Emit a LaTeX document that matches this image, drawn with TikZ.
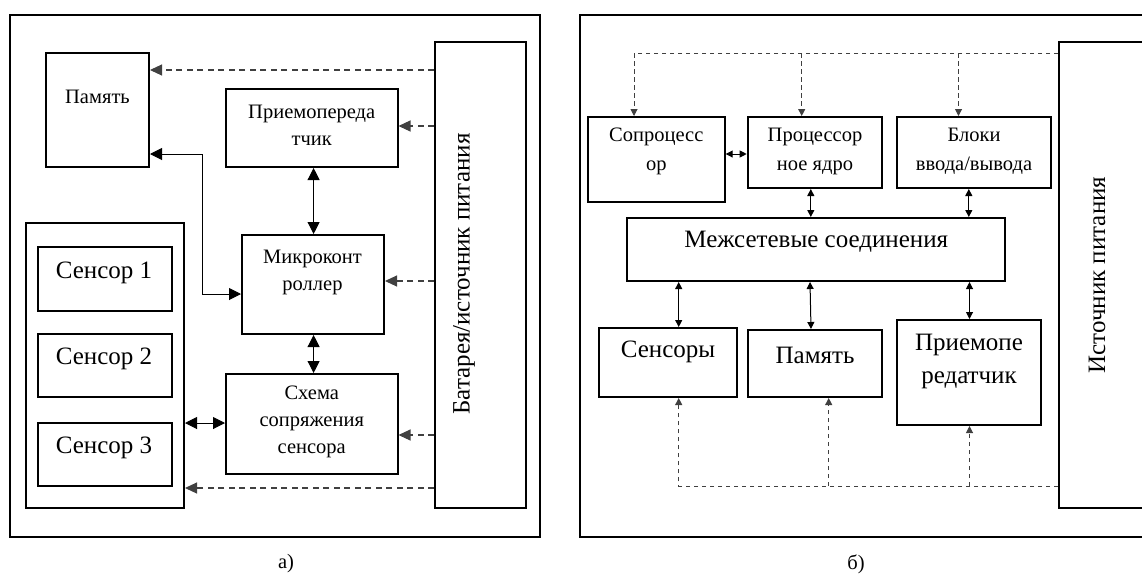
\documentclass[tikz,border=0pt]{standalone}
\usepackage{fontspec}
\setmainfont{Liberation Serif}
\usetikzlibrary{arrows.meta}
\begin{document}
\begin{tikzpicture}[x=1pt,y=-1pt,
  box/.style={draw,line width=2pt,inner sep=0pt},
  lbl/.style={inner sep=0pt,align=center},
  small/.style={font=\fontsize{20.5}{27}\selectfont},
  smallr/.style={font=\fontsize{20.5}{29}\selectfont},
  big/.style={font=\fontsize{25}{33}\selectfont},
  al/.style={line width=1pt,{Triangle[length=12pt,width=12pt]}-{Triangle[length=12pt,width=12pt]}},
  dl/.style={line width=1.1pt,draw=black!75,dash pattern=on 6pt off 4.5pt,-{Triangle[length=12pt,width=11pt]}},
  ar/.style={line width=1pt,{Triangle[length=7pt,width=7pt]}-{Triangle[length=7pt,width=7pt]}},
  dr/.style={line width=1pt,draw=black!75,dash pattern=on 4.5pt off 3.5pt},
  drt/.style={dr,-{Triangle[length=7pt,width=7pt]}}
]
\useasboundingbox (0,0) rectangle (1142,576);
\clip (0,0) rectangle (1142,576);

% ---------- panel a ----------
\draw[line width=2.4pt] (10,15) rectangle (540,537);
\node[box,minimum width=91,minimum height=466] (bat) at (480.5,275) {};
\node[lbl,big,rotate=90] (batT) at (464,274) {Батарея/источник питания};
\node[box,minimum width=103,minimum height=114] (mem) at (97.5,110) {};
\node[lbl,small] (memT) at (97.5,97) {Память};
\node[box,minimum width=171.5,minimum height=78] (trx) at (311.75,128) {};
\node[lbl,small] (trxT) at (311.75,125) {Приемопереда\\тчик};
\node[box,minimum width=142,minimum height=99] (mcu) at (313,284.5) {};
\node[lbl,small] (mcuT) at (312.5,272) {Микроконт\\роллер};
\node[box,minimum width=158.3,minimum height=285] (sgrp) at (104.85,365.5) {};
\node[box,minimum width=134,minimum height=64] (s1) at (105,279) {};
\node[lbl,big] (s1T) at (104,273) {Сенсор 1};
\node[box,minimum width=134,minimum height=63] (s2) at (105,365.5) {};
\node[lbl,big] (s2T) at (104,359) {Сенсор 2};
\node[box,minimum width=134,minimum height=63] (s3) at (105,454.5) {};
\node[lbl,big] (s3T) at (104,448) {Сенсор 3};
\node[box,minimum width=171.5,minimum height=100] (sch) at (311.75,424) {};
\node[lbl,small] (schT) at (311.75,422) {Схема\\сопряжения\\сенсора};
\node[lbl,small] (capA) at (286,564) {а)};

\draw[al] (mcu.north -| 313.6,0) -- (trx.south -| 313.6,0);
\draw[al] (mcu.south -| 313.6,0) -- (sch.north -| 313.6,0);
\draw[al] (mem.east |- 0,154) -- (202.5,154) -- (202.5,294) -- (mcu.west |- 0,294);
\draw[al] (sgrp.east |- 0,423) -- (sch.west |- 0,423);

\draw[dl] (bat.west |- 0,70) -- (mem.east |- 0,70);
\draw[dl] (bat.west |- 0,126) -- (trx.east |- 0,126);
\draw[dl] (bat.west |- 0,281) -- (mcu.east |- 0,281);
\draw[dl] (bat.west |- 0,435) -- (sch.east |- 0,435);
\draw[dl] (bat.west |- 0,488) -- (sgrp.east |- 0,488);

% ---------- panel b ----------
\draw[line width=2.4pt] (580,15) rectangle (1170,537);
\node[box,minimum width=121,minimum height=466] (pwr) at (1119.5,275) {};
\node[lbl,big,rotate=90] (pwrT) at (1097,275) {Источник питания};
\node[box,minimum width=136.7,minimum height=85] (cop) at (656.35,159.5) {};
\node[lbl,smallr] (copT) at (656.3,151) {Сопроцесс\\ор};
\node[box,minimum width=134.6,minimum height=71] (cpu) at (815,152.5) {};
\node[lbl,smallr] (cpuT) at (815,151) {Процессор\\ное ядро};
\node[box,minimum width=154,minimum height=71] (io) at (974,152.5) {};
\node[lbl,smallr] (ioT) at (974,151) {Блоки\\ввода/вывода};
\node[box,minimum width=378.5,minimum height=63] (net) at (815.75,249.5) {};
\node[lbl,big] (netT) at (816.3,242) {Межсетевые соединения};
\node[box,minimum width=137.7,minimum height=69] (sen) at (667.85,362.5) {};
\node[lbl,big] (senT) at (668,352) {Сенсоры};
\node[box,minimum width=134.6,minimum height=67] (rmem) at (815,363.5) {};
\node[lbl,big] (rmemT) at (815,355) {Память};
\node[box,minimum width=144,minimum height=105] (rtrx) at (969,372.5) {};
\node[lbl,big] (rtrxT) at (969,361) {Приемопе\\редатчик};
\node[lbl,small] (capB) at (856,564) {б)};

\draw[ar] (cop.east |- 0,154) -- (cpu.west |- 0,154);
\draw[ar] (cpu.south -| 810.8,0) -- (net.north -| 810.8,0);
\draw[ar] (io.south -| 968.8,0) -- (net.north -| 968.8,0);
\draw[ar] (net.south -| 678.7,0) -- (sen.north -| 678.7,0);
\draw[ar] (net.south -| 810,0) -- (rmem.north -| 811,0);
\draw[ar] (net.south -| 969.5,0) -- (rtrx.north -| 969.5,0);

\coordinate (tB) at (801.7,53);
\coordinate (tC) at (958.5,53);
\draw[drt] (pwr.west |- 0,53) -| (cop.north -| 634,0);
\draw[drt] (tB) -- (cpu.north -| tB);
\draw[drt] (tC) -- (io.north -| tC);

\coordinate (bB) at (828.7,486);
\coordinate (bC) at (969.5,486);
\draw[drt] (pwr.west |- 0,486) -| (sen.south -| 678.7,0);
\draw[drt] (bB) -- (rmem.south -| bB);
\draw[drt] (bC) -- (rtrx.south -| bC);
\end{tikzpicture}
\end{document}
